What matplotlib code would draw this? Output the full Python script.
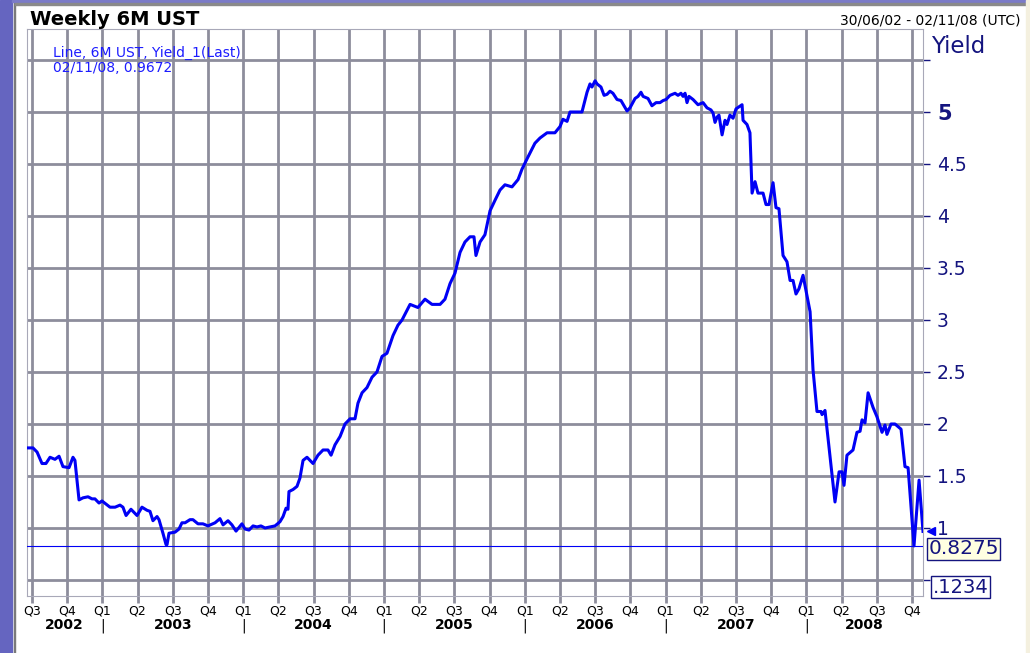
import matplotlib
matplotlib.use("Agg")
import matplotlib.pyplot as plt
import matplotlib.transforms as mtransforms
from matplotlib.patches import Rectangle

# weekly 6M UST yield (%), time as decimal year
t = [2002.472, 2002.507, 2002.536, 2002.571, 2002.599, 2002.628, 2002.663, 2002.692,
     2002.720, 2002.763, 2002.791, 2002.805, 2002.834, 2002.862, 2002.898, 2002.926,
     2002.947, 2002.976, 2002.997, 2003.054, 2003.090, 2003.125, 2003.146, 2003.168,
     2003.203, 2003.246, 2003.281, 2003.317, 2003.338, 2003.359, 2003.388, 2003.402,
     2003.430, 2003.452, 2003.459, 2003.473, 2003.516, 2003.544, 2003.565, 2003.587,
     2003.622, 2003.643, 2003.679, 2003.714, 2003.750, 2003.800, 2003.835, 2003.857,
     2003.892, 2003.920, 2003.949, 2003.991, 2004.013, 2004.041, 2004.070, 2004.098,
     2004.126, 2004.155, 2004.190, 2004.226, 2004.261, 2004.283, 2004.304, 2004.318,
     2004.325, 2004.354, 2004.382, 2004.403, 2004.425, 2004.453, 2004.474, 2004.496,
     2004.531, 2004.567, 2004.602, 2004.624, 2004.652, 2004.688, 2004.723, 2004.759,
     2004.794, 2004.815, 2004.844, 2004.879, 2004.915, 2004.950, 2004.986, 2005.021,
     2005.064, 2005.099, 2005.128, 2005.185, 2005.241, 2005.291, 2005.341, 2005.398,
     2005.433, 2005.469, 2005.504, 2005.540, 2005.575, 2005.611, 2005.639, 2005.653,
     2005.682, 2005.717, 2005.753, 2005.788, 2005.824, 2005.859, 2005.909, 2005.952,
     2005.980, 2006.016, 2006.072, 2006.108, 2006.158, 2006.214, 2006.250, 2006.271,
     2006.300, 2006.321, 2006.406, 2006.442, 2006.463, 2006.477, 2006.499, 2006.513,
     2006.541, 2006.563, 2006.584, 2006.605, 2006.626, 2006.655, 2006.683, 2006.726,
     2006.747, 2006.783, 2006.804, 2006.825, 2006.840, 2006.875, 2006.903, 2006.932,
     2006.960, 2006.982, 2007.003, 2007.031, 2007.067, 2007.088, 2007.109, 2007.124,
     2007.138, 2007.152, 2007.166, 2007.195, 2007.230, 2007.266, 2007.294, 2007.322,
     2007.337, 2007.351, 2007.365, 2007.379, 2007.401, 2007.422, 2007.436, 2007.457,
     2007.479, 2007.500, 2007.543, 2007.550, 2007.578, 2007.599, 2007.614, 2007.635,
     2007.656, 2007.692, 2007.713, 2007.734, 2007.763, 2007.784, 2007.805, 2007.834,
     2007.862, 2007.884, 2007.905, 2007.926, 2007.947, 2007.976, 2008.026, 2008.047,
     2008.075, 2008.104, 2008.111, 2008.132, 2008.203, 2008.232, 2008.253, 2008.267,
     2008.288, 2008.331, 2008.359, 2008.381, 2008.395, 2008.416, 2008.438, 2008.473,
     2008.501, 2008.537, 2008.558, 2008.572, 2008.601, 2008.629, 2008.672, 2008.700,
     2008.722, 2008.764, 2008.800, 2008.828]
yld = [1.77, 1.77, 1.73, 1.62, 1.62, 1.68, 1.66, 1.69,
       1.59, 1.58, 1.68, 1.65, 1.27, 1.29, 1.30, 1.28,
       1.28, 1.24, 1.26, 1.20, 1.20, 1.22, 1.20, 1.12,
       1.18, 1.12, 1.20, 1.17, 1.16, 1.07, 1.11, 1.08,
       0.95, 0.84, 0.84, 0.95, 0.96, 0.99, 1.05, 1.05,
       1.08, 1.08, 1.04, 1.04, 1.02, 1.05, 1.09, 1.03,
       1.07, 1.03, 0.97, 1.04, 0.99, 0.98, 1.02, 1.01,
       1.02, 1.00, 1.01, 1.02, 1.06, 1.11, 1.19, 1.18,
       1.35, 1.37, 1.40, 1.48, 1.65, 1.68, 1.65, 1.62,
       1.70, 1.75, 1.75, 1.70, 1.80, 1.88, 2.00, 2.05,
       2.05, 2.20, 2.30, 2.35, 2.45, 2.50, 2.65, 2.68,
       2.85, 2.95, 3.00, 3.15, 3.12, 3.20, 3.15, 3.15,
       3.20, 3.35, 3.45, 3.65, 3.75, 3.80, 3.80, 3.62,
       3.75, 3.82, 4.05, 4.15, 4.25, 4.30, 4.28, 4.35,
       4.45, 4.55, 4.70, 4.75, 4.80, 4.80, 4.86, 4.93,
       4.91, 5.00, 5.00, 5.19, 5.27, 5.24, 5.30, 5.27,
       5.24, 5.16, 5.17, 5.20, 5.18, 5.12, 5.11, 5.01,
       5.04, 5.13, 5.15, 5.19, 5.15, 5.13, 5.06, 5.09,
       5.09, 5.11, 5.12, 5.16, 5.18, 5.16, 5.18, 5.15,
       5.18, 5.09, 5.15, 5.12, 5.07, 5.09, 5.04, 5.02,
       4.99, 4.90, 4.95, 4.97, 4.78, 4.92, 4.88, 4.97,
       4.94, 5.03, 5.07, 4.92, 4.88, 4.80, 4.22, 4.33,
       4.22, 4.22, 4.11, 4.11, 4.32, 4.08, 4.07, 3.62,
       3.56, 3.38, 3.38, 3.25, 3.30, 3.43, 3.08, 2.52,
       2.12, 2.12, 2.09, 2.13, 1.25, 1.54, 1.54, 1.41,
       1.70, 1.75, 1.92, 1.93, 2.04, 2.01, 2.30, 2.16,
       2.07, 1.92, 1.99, 1.90, 2.00, 2.00, 1.95, 1.59,
       1.58, 0.8275, 1.46, 0.9672]

last_date = "02/11/08"
last_val = 0.9672
low_val = 0.8275
cursor_val = 0.45
cursor_txt = ".1234"

quarters = [2002.5 + 0.25 * i for i in range(26)]
q_names = ["Q3", "Q4"] + ["Q1", "Q2", "Q3", "Q4"] * 6
years = [2002, 2003, 2004, 2005, 2006, 2007, 2008]
ylevels = [0.5, 1, 1.5, 2, 2.5, 3, 3.5, 4, 4.5, 5, 5.5]
ylabels = ["", "1", "1.5", "2", "2.5", "3", "3.5", "4", "4.5", "5", ""]

navy = "#14147f"
grid_c = "#8d8d9c"
blue = "#0000f5"

W, H = 1030, 653
fig = plt.figure(figsize=(W / 100, H / 100), dpi=100)

# window frame bits
fig.patches.append(Rectangle((0, 0), 12 / W, 1, transform=fig.transFigure, color="#6565c0", zorder=0))
fig.patches.append(Rectangle((13.5 / W, 0), 1.5 / W, 1, transform=fig.transFigure, color="#7a7a7a", zorder=0))
fig.patches.append(Rectangle((12 / W, 1 - 2 / H), 1, 2 / H, transform=fig.transFigure, color="#7b7bc8", zorder=0))
fig.patches.append(Rectangle((15 / W, 1 - 4.5 / H), 1011 / W, 1 / H, transform=fig.transFigure, color="#8a8a8a", zorder=0))
fig.patches.append(Rectangle((1026 / W, 0), 4 / W, 1, transform=fig.transFigure, color="#f4f0df", zorder=0))

x0, x1, y0, y1 = 27, 923, 29, 596
ax = fig.add_axes([x0 / W, 1 - y1 / H, (x1 - x0) / W, (y1 - y0) / H])
ax.set_xlim(2002.4645, 2008.828)
ax.set_ylim(0.346, 5.798)

ax.plot(t, yld, color=blue, lw=2.2, zorder=3, solid_joinstyle="round")
ax.axhline(low_val, color=blue, lw=0.8, zorder=3)

ax.set_xticks(quarters)
ax.set_xticklabels(q_names)
ax.set_yticks(ylevels)
ax.set_yticklabels(ylabels)
ax.grid(True, color=grid_c, lw=2.0, zorder=1)
ax.set_axisbelow(True)
ax.tick_params(axis="x", length=5, width=2.0, color=grid_c, labelsize=9, pad=1)
ax.yaxis.tick_right()
ax.tick_params(axis="y", which="both", left=False, right=True, labelleft=False,
               labelright=True, length=5, width=1, color=navy, labelcolor=navy,
               labelsize=13.5, pad=5)
for lab in ax.get_yticklabels():
    if lab.get_text() == "5":
        lab.set_fontweight("bold")
        lab.set_fontsize(15)
for s in ax.spines.values():
    s.set_color("#a8a8b8")
    s.set_linewidth(0.8)

# year row under the quarters
xtr = mtransforms.blended_transform_factory(ax.transData, ax.transAxes)
lo, hi = ax.get_xlim()
for yr in years:
    a = max(yr, lo)
    b = min(yr + 1, hi)
    ax.text((a + b) / 2, -0.051, str(yr), transform=xtr, ha="center", va="center",
            fontsize=10, fontweight="bold")
    if yr > 2002:
        ax.text(yr, -0.053, "|", transform=xtr, ha="center", va="center", fontsize=10)

# right side boxes and end marker
ytr = mtransforms.blended_transform_factory(ax.transAxes, ax.transData)
ax.plot([1.009], [last_val], transform=ytr, marker="<", ms=6, color=blue, clip_on=False)
ax.annotate("0.8275", xy=(1.006, low_val), xycoords=ytr, xytext=(0, -3),
            textcoords="offset pixels", ha="left", va="center", fontsize=14.5, color=navy,
            bbox=dict(boxstyle="square,pad=0.06", fc="#ffffe1", ec=navy, lw=1))
ax.annotate(cursor_txt, xy=(1.011, cursor_val), xycoords=ytr, xytext=(0, -2),
            textcoords="offset pixels", ha="left", va="center", fontsize=14, color=navy,
            bbox=dict(boxstyle="square,pad=0.08", fc="white", ec=navy, lw=1))

# header texts
fig.text(30 / W, 1 - 25 / H, "Weekly 6M UST", fontsize=14, fontweight="bold", va="baseline")
fig.text(1020 / W, 1 - 24 / H, "30/06/02 - 02/11/08 (UTC)", fontsize=10, ha="right", va="baseline")
fig.text(931 / W, 1 - 53 / H, "Yield", fontsize=16.5, color=navy, va="baseline")
fig.text(53 / W, 1 - 57 / H, "Line, 6M UST, Yield_1(Last)", fontsize=10, color="#1c1cff", va="baseline")
fig.text(53 / W, 1 - 72 / H, f"{last_date}, {last_val}", fontsize=10, color="#1c1cff", va="baseline")

fig.savefig("out.png", dpi=100)
